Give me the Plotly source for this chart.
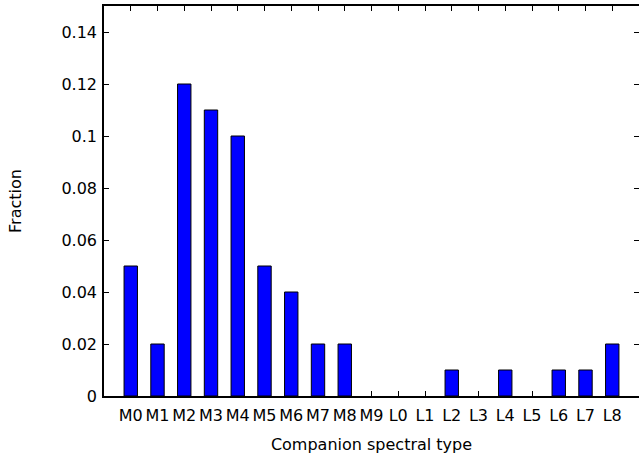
import plotly.graph_objects as go

categories = ["M0","M1","M2","M3","M4","M5","M6","M7","M8","M9",
              "L0","L1","L2","L3","L4","L5","L6","L7","L8"]
fractions = [0.05,0.02,0.12,0.11,0.10,0.05,0.04,0.02,0.02,0.0,
             0.0,0.0,0.01,0.0,0.01,0.0,0.01,0.01,0.02]
y_ticks = [0, 0.02, 0.04, 0.06, 0.08, 0.1, 0.12, 0.14]
y_labels = ["0", "0.02", "0.04", "0.06", "0.08", "0.1", "0.12", "0.14"]

xs = list(range(len(categories)))
outline = [1 if v > 0 else 0 for v in fractions]

fig = go.Figure()
fig.add_trace(go.Bar(
    x=xs, y=fractions, width=0.5,
    marker=dict(color="#0000ff", line=dict(color="black", width=outline)),
))

font = dict(family="DejaVu Sans, sans-serif", size=16, color="black")

fig.update_layout(
    width=639, height=456,
    margin=dict(l=104, r=0, t=6, b=60, autoexpand=False),
    plot_bgcolor="white", paper_bgcolor="white",
    font=font,
    showlegend=False,
    xaxis=dict(
        range=[-1, 19],
        tickmode="array", tickvals=xs, ticktext=categories,
        ticks="inside", ticklen=5, tickcolor="black", tickwidth=1,
        showline=True, linecolor="black", linewidth=1.5, mirror="allticks",
        showgrid=False, zeroline=False, automargin=False, layer="below traces",
        ticklabelstandoff=4,
        title=dict(text="Companion spectral type", standoff=15, font=font),
    ),
    yaxis=dict(
        range=[0, 0.15],
        tickmode="array", tickvals=y_ticks, ticktext=y_labels,
        ticks="inside", ticklen=5, tickcolor="black", tickwidth=1,
        showline=True, linecolor="black", linewidth=1.5, mirror="allticks",
        showgrid=False, zeroline=False, automargin=False,
        ticklabelstandoff=2,
        title=dict(text="Fraction", standoff=36, font=font),
    ),
)

fig.write_html("out.html", config={"displayModeBar": False},
               post_script="document.body.style.margin='0';")
